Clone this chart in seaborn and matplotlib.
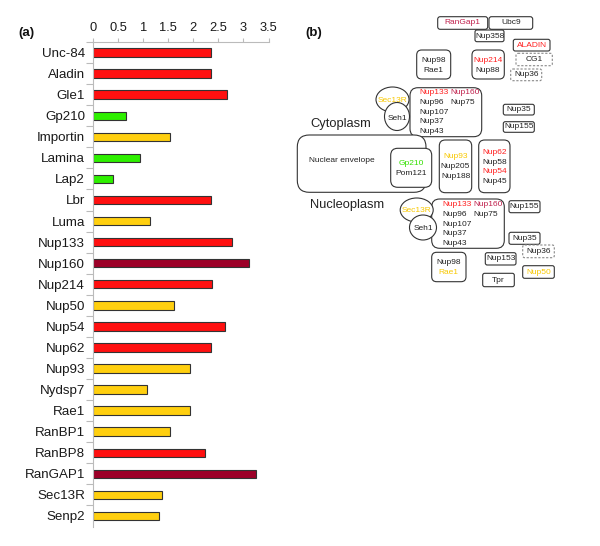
import matplotlib
matplotlib.use("Agg")
import matplotlib.pyplot as plt
import seaborn as sns
import pandas as pd
import numpy as np
from matplotlib.patches import FancyBboxPatch, Ellipse

# ---------------- data (panel a) ----------------
genes = ["Unc-84", "Aladin", "Gle1", "Gp210", "Importin", "Lamina", "Lap2", "Lbr",
         "Luma", "Nup133", "Nup160", "Nup214", "Nup50", "Nup54", "Nup62", "Nup93",
         "Nydsp7", "Rae1", "RanBP1", "RanBP8", "RanGAP1", "Sec13R", "Senp2"]
scores = [2.35, 2.36, 2.68, 0.65, 1.54, 0.93, 0.40, 2.35,
          1.13, 2.78, 3.12, 2.37, 1.61, 2.64, 2.35, 1.94,
          1.07, 1.94, 1.54, 2.24, 3.25, 1.37, 1.31]
groups = ["red", "red", "red", "green", "yellow", "green", "green", "red",
          "yellow", "red", "darkred", "red", "yellow", "red", "red", "yellow",
          "yellow", "yellow", "yellow", "red", "darkred", "yellow", "yellow"]
group_colors = {"red": "#ff1010", "darkred": "#9c0028",
                "yellow": "#ffcf0f", "green": "#2ef000"}
x_ticks = [0, 0.5, 1, 1.5, 2, 2.5, 3, 3.5]
x_tick_labels = ["0", "0.5", "1", "1.5", "2", "2.5", "3", "3.5"]

# ---------------- diagram content (panel b) ----------------
RED = "#ff2020"
CRIMSON = "#c0204c"
GOLD = "#f8c800"
GREEN = "#33e000"
BLACK = "#222222"

# (x0, y0, x1, y1, rounding, dashed)
boxes = [
    (437.7, 16.7, 487.7, 29.3, 2.5, False),   # RanGap1
    (489.0, 16.7, 532.7, 29.3, 2.5, False),   # Ubc9
    (475.0, 30.0, 504.0, 41.7, 2, False),     # Nup358
    (513.3, 39.3, 550.0, 51.0, 2, False),     # ALADIN
    (516.0, 53.3, 552.3, 65.7, 2, True),      # CG1
    (510.7, 69.0, 541.7, 80.7, 2, True),      # Nup36
    (416.7, 50.0, 450.7, 79.0, 5, False),     # Nup98/Rae1
    (472.0, 50.0, 504.3, 79.0, 5, False),     # Nup214/Nup88
    (410.0, 87.7, 481.7, 136.7, 8, False),    # Nup107-160 (cyto)
    (503.3, 104.3, 534.3, 115.0, 2, False),   # Nup35
    (503.3, 121.7, 534.3, 132.3, 2, False),   # Nup155
    (297.3, 135.0, 426.0, 192.3, 12, False),  # nuclear envelope
    (390.7, 148.3, 431.7, 187.3, 7, False),   # Gp210/Pom121
    (439.3, 140.0, 471.7, 192.7, 6, False),   # Nup93 complex
    (478.7, 140.0, 510.0, 192.7, 6, False),   # Nup62 complex
    (431.7, 199.0, 504.3, 248.3, 8, False),   # Nup107-160 (nuc)
    (509.0, 200.7, 540.0, 212.7, 2, False),   # Nup155
    (509.0, 232.3, 540.0, 244.3, 2, False),   # Nup35
    (522.7, 245.0, 554.3, 257.7, 2, True),    # Nup36
    (431.7, 252.3, 466.0, 281.7, 5, False),   # Nup98/Rae1
    (485.3, 252.7, 516.0, 265.0, 2, False),   # Nup153
    (522.7, 265.7, 554.3, 278.3, 2, False),   # Nup50
    (482.7, 273.3, 514.3, 286.7, 2, False),   # Tpr
]
# (cx, cy, w, h)
ellipses = [
    (392.5, 99.5, 33, 25), (397.0, 116.5, 25, 28),
    (416.7, 210.0, 33, 24), (423.0, 227.5, 27, 25),
]
# (x, y, text, color, ha)
labels = [
    (462.7, 23.0, "RanGap1", CRIMSON, "center"),
    (510.8, 23.0, "Ubc9", BLACK, "center"),
    (489.5, 36.0, "Nup358", BLACK, "center"),
    (531.6, 45.3, "ALADIN", RED, "center"),
    (534.1, 59.5, "CG1", BLACK, "center"),
    (526.2, 75.0, "Nup36", BLACK, "center"),
    (433.7, 60.3, "Nup98", BLACK, "center"),
    (433.7, 70.3, "Rae1", BLACK, "center"),
    (488.1, 60.3, "Nup214", RED, "center"),
    (488.1, 70.3, "Nup88", BLACK, "center"),
    (392.5, 100.0, "Sec13R", GOLD, "center"),
    (397.0, 118.0, "Seh1", BLACK, "center"),
    (419.0, 92.8, "Nup133", RED, "left"),
    (450.0, 92.8, "Nup160", CRIMSON, "left"),
    (419.0, 102.5, "Nup96", BLACK, "left"),
    (450.0, 102.5, "Nup75", BLACK, "left"),
    (419.0, 112.0, "Nup107", BLACK, "left"),
    (419.0, 121.5, "Nup37", BLACK, "left"),
    (419.0, 131.2, "Nup43", BLACK, "left"),
    (518.8, 109.7, "Nup35", BLACK, "center"),
    (518.8, 127.0, "Nup155", BLACK, "center"),
    (309.0, 160.0, "Nuclear envelope", BLACK, "left"),
    (411.2, 163.3, "Gp210", GREEN, "center"),
    (411.2, 173.3, "Pom121", BLACK, "center"),
    (455.5, 156.7, "Nup93", GOLD, "center"),
    (455.5, 166.7, "Nup205", BLACK, "center"),
    (455.5, 176.7, "Nup188", BLACK, "center"),
    (494.3, 152.7, "Nup62", RED, "center"),
    (494.3, 162.3, "Nup58", BLACK, "center"),
    (494.3, 171.9, "Nup54", RED, "center"),
    (494.3, 181.7, "Nup45", BLACK, "center"),
    (416.7, 210.7, "Sec13R", GOLD, "center"),
    (423.0, 228.5, "Seh1", BLACK, "center"),
    (442.7, 205.0, "Nup133", RED, "left"),
    (473.3, 205.0, "Nup160", CRIMSON, "left"),
    (442.7, 214.5, "Nup96", BLACK, "left"),
    (473.3, 214.5, "Nup75", BLACK, "left"),
    (442.7, 224.0, "Nup107", BLACK, "left"),
    (442.7, 233.7, "Nup37", BLACK, "left"),
    (442.7, 243.3, "Nup43", BLACK, "left"),
    (524.5, 206.7, "Nup155", BLACK, "center"),
    (524.5, 238.3, "Nup35", BLACK, "center"),
    (538.5, 251.3, "Nup36", BLACK, "center"),
    (448.8, 262.3, "Nup98", BLACK, "center"),
    (448.8, 272.3, "Rae1", GOLD, "center"),
    (500.6, 258.8, "Nup153", BLACK, "center"),
    (538.5, 272.0, "Nup50", GOLD, "center"),
    (498.5, 280.0, "Tpr", BLACK, "center"),
]
region_labels = [(310.0, 124.5, "Cytoplasm"), (310.0, 205.0, "Nucleoplasm")]

# ---------------- figure ----------------
sns.set_theme(style="white")
plt.rcParams['font.family'] = ['Liberation Sans', 'DejaVu Sans']

fig = plt.figure(figsize=(6, 5.46), dpi=100)

# panel b canvas in pixel coordinates
axb = fig.add_axes([0, 0, 1, 1])
axb.set_xlim(0, 600)
axb.set_ylim(546, 0)
axb.axis("off")
axb.patch.set_alpha(0)

for (x0, y0, x1, y1, r, dashed) in boxes:
    p = FancyBboxPatch((x0, y0), x1 - x0, y1 - y0,
                       boxstyle=f"round,pad=0,rounding_size={r}",
                       facecolor="white",
                       edgecolor="#888888" if dashed else "#333333",
                       linewidth=0.8,
                       linestyle=(0, (2, 1.5)) if dashed else "-")
    axb.add_patch(p)
for (cx, cy, w, h) in ellipses:
    axb.add_patch(Ellipse((cx, cy), w, h, facecolor="white",
                          edgecolor="#333333", linewidth=0.8))
for (x, y, t, c, ha) in labels:
    axb.text(x, y, t, color=c, ha=ha, va="center", fontsize=6.0)
for (x, y, t) in region_labels:
    axb.text(x, y, t, color=BLACK, ha="left", va="center", fontsize=9.3)

fig.text(18 / 600, 1 - 33 / 546, "(a)", fontsize=9.5, fontweight="bold",
         ha="left", va="center", color="#111111")
fig.text(305 / 600, 1 - 33 / 546, "(b)", fontsize=9.5, fontweight="bold",
         ha="left", va="center", color="#111111")

# panel a bar chart
ax = fig.add_axes([93.3 / 600, 1 - 526.5 / 546, 175.2 / 600, 484.5 / 546])
df = pd.DataFrame({"gene": genes, "score": scores, "group": groups})
sns.barplot(data=df, x="score", y="gene", hue="group", palette=group_colors,
            dodge=False, width=0.4, saturation=1, edgecolor="#333333",
            linewidth=0.8, legend=False, orient="h", ax=ax)
ax.set_xlim(0, 3.5)
ax.set_ylim(22.5, -0.5)
ax.set_xlabel("")
ax.set_ylabel("")
ax.xaxis.tick_top()
ax.set_xticks(x_ticks)
ax.set_xticklabels(x_tick_labels)
for s in ["right", "bottom"]:
    ax.spines[s].set_visible(False)
for s in ["top", "left"]:
    ax.spines[s].set_visible(True)
    ax.spines[s].set_color("#bbbbbb")
    ax.spines[s].set_linewidth(0.8)
ax.tick_params(axis="x", which="major", top=True, bottom=False, labeltop=True,
               labelbottom=False, length=3, width=0.8, color="#bbbbbb",
               pad=2.5, labelsize=9.3, labelcolor="#1a1a1a")
ax.set_yticks(np.arange(-0.5, 22.0, 1), minor=True)
ax.tick_params(axis="y", which="major", left=False, length=0, pad=6,
               labelsize=9.6, labelcolor="#1a1a1a")
ax.tick_params(axis="y", which="minor", left=True, length=5, width=0.8,
               color="#bbbbbb")
ax.grid(False)

fig.savefig("out.png", dpi=100, facecolor="white")
